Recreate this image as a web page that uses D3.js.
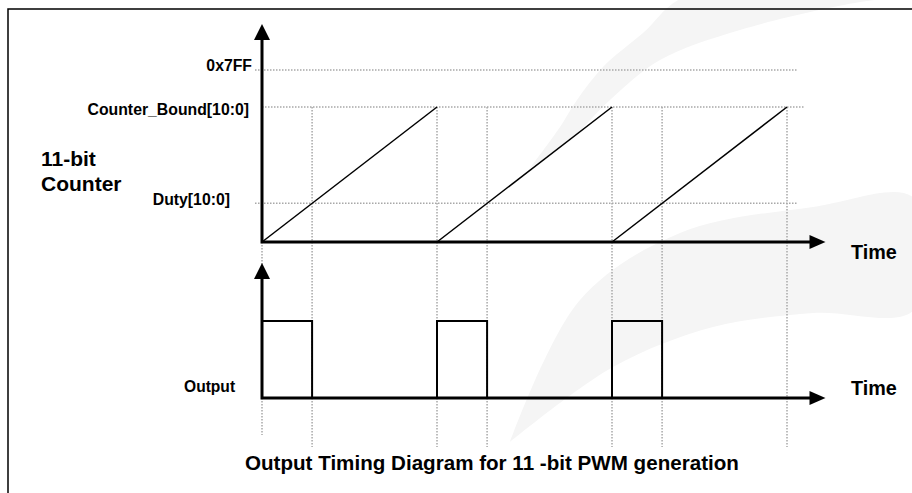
<!DOCTYPE html>
<html>
<head>
<meta charset="utf-8">
<script src="https://cdn.jsdelivr.net/npm/d3@7"></script>
<style>
    html, body { margin: 0; padding: 0; background: #fff; }
    svg { display: block; }
    text { font-family: "Liberation Sans", Arial, sans-serif; font-weight: bold; fill: #000; }
</style>
</head>
<body>
<div id="chart"></div>
<script>
'use strict';

/**** Data ****/
var cycles = [0, 1, 2];                       // PWM periods shown
var counterMax = 2047;                        // 0x7FF
var counterBound = 1607;                      // Counter_Bound[10:0]
var dutyValue = 460;                          // Duty[10:0]
var levelLabels = ['0x7FF', 'Counter_Bound[10:0]', 'Duty[10:0]'];
var levelValues = [counterMax, counterBound, dutyValue];
var outputLevels = [0, 1];
var titleText = 'Output Timing Diagram for 11 -bit PWM generation';

/**** Layout ****/
var width = 912, height = 493;
var labelEnds = [252, 249, 230];              // right edge of each level label
var labelShift = [1, 8, 2];                   // baseline offset from its guide line
var guideStart = [255, 262, 255];
var guideEnd = [797, 804, 797];

var svg = d3.select('#chart').append('svg')
    .attr('width', width)
    .attr('height', height);

//Scales
var x = d3.scaleLinear().domain([0, cycles.length]).range([262, 787]);
var yCounter = d3.scaleLinear().domain([0, counterMax]).range([242, 70]);
var yOutput = d3.scaleLinear().domain(outputLevels).range([398, 321]);
var dutyFraction = dutyValue / counterBound;

//Watermark swooshes (background decoration)
var swoosh = d3.line().curve(d3.curveCatmullRom);
svg.append('path')
    .attr('d', swoosh([[510, 442], [580, 300], [680, 233], [813, 207], [914, 198],
        [914, 310], [813, 313], [713, 327], [613, 367], [510, 442]]) + 'Z')
    .attr('fill', '#f5f5f5');
svg.append('path')
    .attr('d', swoosh([[530, 168], [570, 140], [610, 100], [660, 60], [740, 30], [860, 2], [914, -4],
        [687, -4], [643, 33], [603, 67], [577, 100], [560, 127], [530, 168]]) + 'Z')
    .attr('fill', '#f5f5f5');

//Frame (left and top edges only are visible)
svg.append('path')
    .attr('d', 'M8,' + height + 'V9H' + width)
    .attr('fill', 'none')
    .attr('stroke', '#000')
    .attr('stroke-width', 1.5);

var guides = svg.append('g').attr('id', 'guides');
var marks = svg.append('g').attr('id', 'marks');
var axes = svg.append('g').attr('id', 'axes');
var labels = svg.append('g').attr('id', 'labels');

var dotted = function(sel) {
    return sel.attr('stroke', '#a8a8a8')
        .attr('stroke-width', 1.5)
        .attr('stroke-dasharray', '1.5,1.5')
        .attr('fill', 'none');
};

//Horizontal level guides
dotted(guides.selectAll('.levelGuide')
    .data(levelValues)
    .enter()
    .append('line')
    .attr('class', 'levelGuide')
    .attr('x1', function(d, i) { return guideStart[i]; })
    .attr('x2', function(d, i) { return guideEnd[i]; })
    .attr('y1', function(d) { return yCounter(d); })
    .attr('y2', function(d) { return yCounter(d); }));

//Vertical timing guides: period edges and duty crossings
var edgeTimes = [0];
cycles.forEach(function(c) {
    edgeTimes.push(c + dutyFraction, c + 1);
});
dotted(guides.selectAll('.timeGuide')
    .data(edgeTimes)
    .enter()
    .append('line')
    .attr('class', 'timeGuide')
    .attr('x1', function(d) { return x(d); })
    .attr('x2', function(d) { return x(d); })
    .attr('y1', function(d) { return d === 0 ? yCounter(0) : yCounter(counterBound); })
    .attr('y2', function(d) { return d === 0 ? 435 : 447; }));

//Counter ramps
marks.selectAll('.ramp')
    .data(cycles)
    .enter()
    .append('line')
    .attr('class', 'ramp')
    .attr('x1', function(d) { return x(d); })
    .attr('y1', yCounter(0))
    .attr('x2', function(d) { return x(d + 1); })
    .attr('y2', yCounter(counterBound))
    .attr('stroke', '#000')
    .attr('stroke-width', 1.5);

//PWM output waveform
var outputPoints = [];
cycles.forEach(function(c) {
    outputPoints.push([c, 1], [c + dutyFraction, 0]);
});
outputPoints.push([cycles.length, 0]);
marks.append('path')
    .attr('d', d3.line()
        .curve(d3.curveStepAfter)
        .x(function(d) { return x(d[0]); })
        .y(function(d) { return yOutput(d[1]); })(outputPoints))
    .attr('fill', 'none')
    .attr('stroke', '#000')
    .attr('stroke-width', 2);

/* Axes with arrow heads */
var drawAxis = function(yBase, yTop) {
    var xEnd = x(cycles.length + 0.22);
    axes.append('path')
        .attr('d', 'M' + x(0) + ',' + (yTop + 15) + 'V' + yBase + 'H' + (xEnd - 14))
        .attr('fill', 'none')
        .attr('stroke', '#000')
        .attr('stroke-width', 3);
    axes.append('path')
        .attr('d', 'M' + x(0) + ',' + yTop + 'L' + (x(0) - 8) + ',' + (yTop + 16) + 'L' + (x(0) + 8) + ',' + (yTop + 16) + 'Z')
        .attr('fill', '#000');
    axes.append('path')
        .attr('d', 'M' + xEnd + ',' + yBase + 'L' + (xEnd - 16) + ',' + (yBase - 7) + 'L' + (xEnd - 16) + ',' + (yBase + 7) + 'Z')
        .attr('fill', '#000');
};
drawAxis(yCounter(0), 24);
drawAxis(yOutput(0), 263);

//Level labels
labels.selectAll('.levelLabel')
    .data(levelLabels)
    .enter()
    .append('text')
    .attr('class', 'levelLabel')
    .attr('x', function(d, i) { return labelEnds[i]; })
    .attr('y', function(d, i) { return yCounter(levelValues[i]) + labelShift[i]; })
    .attr('text-anchor', 'end')
    .style('font-size', '15.8px')
    .text(function(d) { return d; });

labels.append('text').attr('x', 41).attr('y', 166).style('font-size', '21px').text('11-bit');
labels.append('text').attr('x', 41).attr('y', 191).style('font-size', '21px').text('Counter');
labels.append('text').attr('x', 184).attr('y', 392).style('font-size', '15.6px').text('Output');
labels.append('text').attr('x', 851).attr('y', 259).style('font-size', '19.8px').text('Time');
labels.append('text').attr('x', 851).attr('y', 395).style('font-size', '19.8px').text('Time');
labels.append('text').attr('x', 245).attr('y', 470).style('font-size', '20.6px').text(titleText);
</script>
</body>
</html>
